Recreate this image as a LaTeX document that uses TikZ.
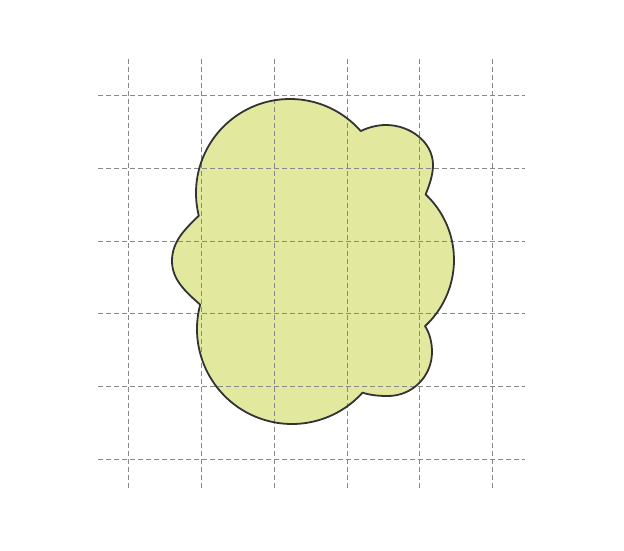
\documentclass[tikz,border=0pt]{standalone}
\begin{document}
\begin{tikzpicture}[x=1pt,y=1pt,
  gridline/.style={draw={rgb,255:red,136;green,136;blue,136},line width=1pt,dash pattern=on 5pt off 3pt},
  blob/.style={draw={rgb,255:red,51;green,51;blue,51},line width=1.8pt,line join=round},
  blobfill/.style={fill={rgb,255:red,226;green,233;blue,158}}]
\useasboundingbox (0,0) rectangle (624,550);
% shape path
\def\blobpath{
  ([shift={(290,357)}]41.2:94) arc[start angle=41.2, end angle=194, radius=94]
  .. controls (184,320) and (172,308) .. (172,289)
  .. controls (172,270) and (186,258) .. (200.2,245.3)
  -- ([shift={(292,221)}]165.2:95) arc[start angle=165.2, end angle=318, radius=95]
  .. controls (369,155) and (378,154) .. (388,154)
  .. controls (412.3,154) and (432,173.7) .. (432,198)
  .. controls (432,208) and (429.5,217) .. (425,224)
  -- ([shift={(364,290)}]-47.3:90) arc[start angle=-47.3, end angle=46.8, radius=90]
  .. controls (430,366) and (433,376) .. (433,385)
  .. controls (433,408) and (410,425) .. (386,425)
  .. controls (377,425) and (368,422.5) .. (360.7,418.9) -- cycle}
\path[blobfill] \blobpath;
% grid
\foreach \i in {0,...,5}{
  \coordinate (vt\i) at (128.7+72.8*\i,491);
  \coordinate (vb\i) at (128.7+72.8*\i,60);
  \draw[gridline] (vt\i) -- (vb\i);
  \coordinate (hl\i) at (98,454.3-72.7*\i);
  \coordinate (hr\i) at (525,454.3-72.7*\i);
  \draw[gridline] (hl\i) -- (hr\i);
}
\path[blob] \blobpath;
\end{tikzpicture}
\end{document}
